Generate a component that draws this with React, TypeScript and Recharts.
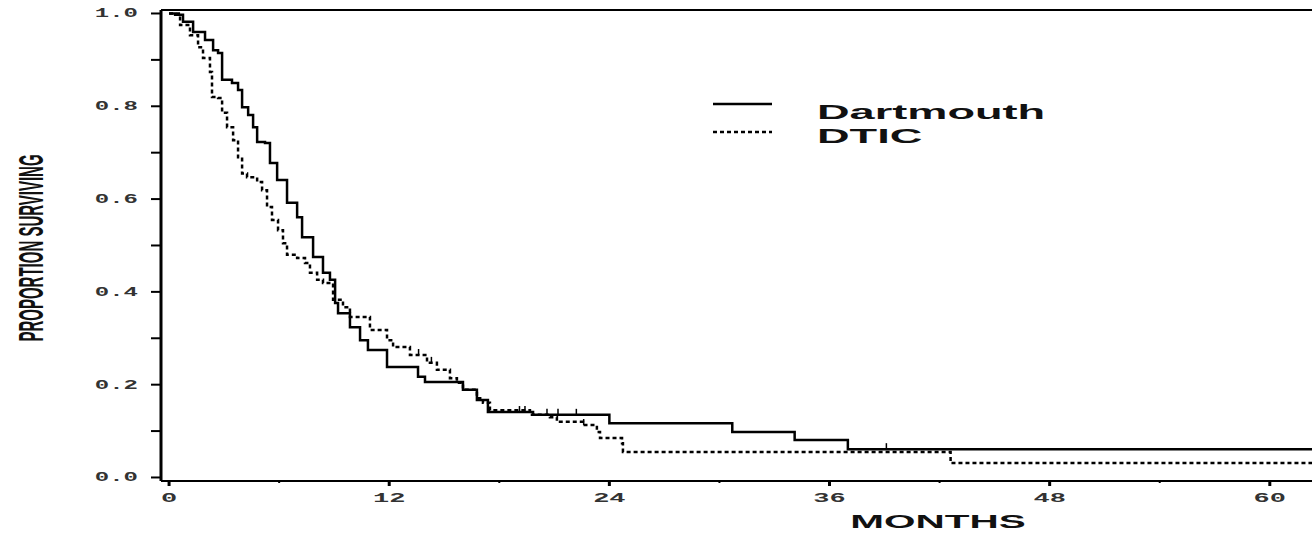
import React from 'react';
import { ComposedChart, Line, Scatter, XAxis, YAxis, ReferenceLine, Legend } from 'recharts';

// Kaplan-Meier curves (months, proportion surviving)
const dartmouthMonths = [0, 0.33, 0.76, 1.31, 1.96, 2.4, 2.67, 2.89, 3.43, 3.76, 3.98, 4.31, 4.58, 4.8, 5.23, 5.5, 5.89, 6.43, 6.98, 7.25, 7.85, 8.39, 8.77, 9.05, 9.21, 9.86, 10.41, 10.84, 11.88, 13.57, 13.95, 16.02, 16.78, 17.38, 19.84, 24.0, 30.7, 34.1, 37.0, 62.3];
const dartmouthSurv = [1.0, 0.997, 0.982, 0.96, 0.943, 0.921, 0.915, 0.857, 0.85, 0.835, 0.798, 0.781, 0.755, 0.723, 0.721, 0.678, 0.641, 0.592, 0.561, 0.518, 0.475, 0.441, 0.426, 0.376, 0.354, 0.324, 0.296, 0.275, 0.238, 0.217, 0.206, 0.189, 0.167, 0.141, 0.135, 0.117, 0.098, 0.081, 0.061, 0.061];

const dticMonths = [0, 0.6, 1.14, 1.58, 1.85, 2.23, 2.34, 2.67, 2.89, 3.16, 3.49, 3.76, 3.98, 4.25, 4.8, 5.07, 5.34, 5.61, 5.94, 6.21, 6.43, 6.98, 7.41, 7.68, 8.07, 8.39, 8.94, 9.48, 9.86, 10.95, 11.88, 12.21, 13.13, 14.06, 14.6, 15.31, 15.69, 16.02, 16.78, 17.11, 17.49, 19.67, 20.76, 21.14, 22.56, 23.32, 23.49, 24.69, 24.74, 42.6, 62.3];
const dticSurv = [1.0, 0.975, 0.953, 0.927, 0.904, 0.874, 0.82, 0.818, 0.786, 0.755, 0.727, 0.69, 0.655, 0.647, 0.637, 0.619, 0.583, 0.555, 0.533, 0.505, 0.48, 0.473, 0.462, 0.441, 0.426, 0.419, 0.383, 0.367, 0.346, 0.318, 0.296, 0.281, 0.264, 0.247, 0.232, 0.214, 0.204, 0.189, 0.171, 0.161, 0.145, 0.135, 0.13, 0.12, 0.113, 0.098, 0.085, 0.074, 0.055, 0.031, 0.031];

// censored observations (small vertical marks)
const dartmouthCensorMonths = [19.1, 19.4, 20.6, 21.2, 22.2, 39.1];
const dartmouthCensorSurv = [0.141, 0.141, 0.135, 0.135, 0.135, 0.061];
const dticCensorMonths = [13.6, 14.3, 22.6];
const dticCensorSurv = [0.264, 0.247, 0.113];

const xTicks = [0, 6, 12, 18, 24, 30, 36, 42, 48, 54, 60];
const yTicks = [0, 0.1, 0.2, 0.3, 0.4, 0.5, 0.6, 0.7, 0.8, 0.9, 1.0];

const X_DOMAIN: [number, number] = [-0.44, 62.3];
const Y_DOMAIN: [number, number] = [-0.0076, 1.0075];

const toRows = (ms: number[], ss: number[]) => ms.map((m, i) => ({ m, s: ss[i] }));
const dartmouth = toRows(dartmouthMonths, dartmouthSurv);
const dtic = toRows(dticMonths, dticSurv);
const dartmouthCensor = toRows(dartmouthCensorMonths, dartmouthCensorSurv);
const dticCensor = toRows(dticCensorMonths, dticCensorSurv);

const tickFont = { fontFamily: '"Liberation Mono", monospace', fontWeight: 700, fill: '#333' };

const XTick = (props: any) => {
  const { x, y, payload } = props;
  const major = payload.value % 12 === 0;
  return (
    <g>
      <line x1={x} x2={x} y1={y} y2={y + (major ? 5 : 2)} stroke="#000" strokeWidth={major ? 3 : 2} />
      {major && (
        <text transform={`translate(${x},${y + 21}) scale(2,1)`} textAnchor="middle" fontSize={13.5} style={tickFont}>
          {payload.value}
        </text>
      )}
    </g>
  );
};

const YTick = (props: any) => {
  const { x, y, payload } = props;
  const major = Math.round(payload.value * 10) % 2 === 0;
  return (
    <g>
      <line x1={x - 10} x2={x} y1={y} y2={y} stroke="#000" strokeWidth={2} />
      {major && (
        <text transform={`translate(${x - 23},${y + 4}) scale(2,1)`} textAnchor="end" fontSize={12} style={tickFont}>
          {payload.value.toFixed(1)}
        </text>
      )}
    </g>
  );
};

const CensorMark = (props: any) => {
  const { cx, cy } = props;
  return <line x1={cx} x2={cx} y1={cy - 6} y2={cy} stroke="#000" strokeWidth={1.5} />;
};

const legendFont = { fontFamily: '"Liberation Sans", Arial, sans-serif', fontWeight: 700, fontSize: 21, fill: '#111' };

const renderLegend = () => (
  <svg width={380} height={70}>
    <line x1={13} x2={72} y1={15} y2={15} stroke="#000" strokeWidth={2.5} />
    <line x1={13} x2={72} y1={43} y2={43} stroke="#000" strokeWidth={2.5} strokeDasharray="4 3" />
    <text transform="translate(117,30) scale(2.15,1)" style={legendFont}>Dartmouth</text>
    <text transform="translate(117,54) scale(2.15,1)" style={legendFont}>DTIC</text>
  </svg>
);

export default function App() {
  return (
    <div style={{ width: 1312, height: 534, position: 'relative', background: '#fff' }}>
      <style>{'body{margin:0}'}</style>
      <ComposedChart width={1312} height={534} margin={{ top: 10, right: 0, bottom: 0, left: 0 }}>
        <XAxis
          type="number"
          dataKey="m"
          domain={X_DOMAIN}
          ticks={xTicks}
          interval={0}
          allowDataOverflow
          height={53}
          tickSize={0}
          tickMargin={0}
          tickLine={false}
          axisLine={{ stroke: '#000', strokeWidth: 2 }}
          tick={<XTick />}
          label={{
            content: (p: any) => (
              <text
                transform={`translate(${p.viewBox.x + 777},${p.viewBox.y + 47}) scale(2.25,1)`}
                textAnchor="middle"
                style={{ fontFamily: '"Liberation Sans", Arial, sans-serif', fontWeight: 700, fontSize: 18, fill: '#111' }}
              >
                MONTHS
              </text>
            ),
          }}
        />
        <YAxis
          type="number"
          dataKey="s"
          domain={Y_DOMAIN}
          ticks={yTicks}
          interval={0}
          allowDataOverflow
          width={161}
          tickSize={0}
          tickMargin={0}
          tickLine={false}
          axisLine={{ stroke: '#000', strokeWidth: 3 }}
          tick={<YTick />}
          label={{
            content: (p: any) => (
              <text
                transform={`translate(${p.viewBox.x + 31},${p.viewBox.y + 238}) rotate(-90) scale(1,2.3)`}
                textAnchor="middle"
                dominantBaseline="central"
                style={{ fontFamily: '"Liberation Sans", Arial, sans-serif', fontWeight: 700, fontSize: 15, fill: '#111' }}
              >
                PROPORTION SURVIVING
              </text>
            ),
          }}
        />
        <ReferenceLine y={Y_DOMAIN[1]} stroke="#000" strokeWidth={2} ifOverflow="visible" />
        <Legend
          layout="horizontal"
          verticalAlign="middle"
          align="center"
          content={renderLegend}
          wrapperStyle={{ position: 'absolute', left: 700, top: 89, width: 380, height: 70 }}
        />
        <Line
          data={dtic}
          dataKey="s"
          type="stepAfter"
          stroke="#000"
          strokeWidth={2.5}
          strokeDasharray="4 3"
          dot={false}
          activeDot={false}
          isAnimationActive={false}
          name="DTIC"
        />
        <Line
          data={dartmouth}
          dataKey="s"
          type="stepAfter"
          stroke="#000"
          strokeWidth={2.5}
          dot={false}
          activeDot={false}
          isAnimationActive={false}
          name="Dartmouth"
        />
        <Scatter data={dartmouthCensor} dataKey="s" shape={<CensorMark />} isAnimationActive={false} />
        <Scatter data={dticCensor} dataKey="s" shape={<CensorMark />} isAnimationActive={false} />
      </ComposedChart>
    </div>
  );
}
